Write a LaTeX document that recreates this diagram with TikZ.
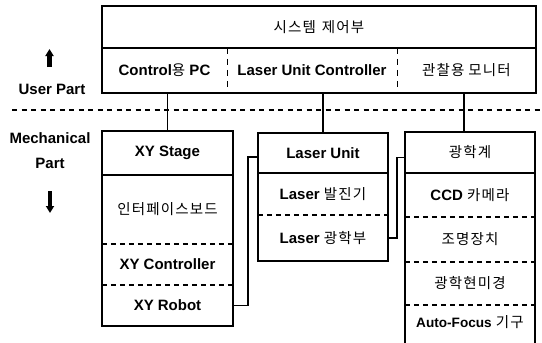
\documentclass[tikz,border=0pt]{standalone}
\usepackage{fontspec}
\setmainfont{Liberation Sans}
\newfontfamily\kr[LetterSpace=8]{Noto Sans CJK KR}
\usetikzlibrary{arrows.meta,calc}
\newcommand\K[1]{{\kr\mdseries\fontsize{14.5}{17}\selectfont #1}}
\begin{document}
\begin{tikzpicture}[x=1pt,y=-1pt,
  cell/.style 2 args={inner sep=0pt, minimum width=#1, minimum height=#2,
    font=\fontsize{15}{18}\selectfont\bfseries},
  outer/.style={line width=1.8pt, line join=miter},
  div/.style={line width=1.5pt},
  hdash/.style={line width=1.5pt, dash pattern=on 5pt off 4pt},
  vdash/.style={line width=1.4pt, dash pattern=on 6pt off 5pt},
  sep/.style={line width=1.6pt, dash pattern=on 5pt off 4.5pt},
  conn/.style={line width=1.5pt},
  fatarrow/.style={line width=4.4pt, -{Triangle[length=7pt,width=8pt]}},
  lab/.style={inner sep=0pt, font=\fontsize{15}{18}\selectfont\bfseries}]
\useasboundingbox (0,0) rectangle (542,343);
\fill[white] (0,0) rectangle (542,343);

% ---- user part (top box)
\node[cell={434}{42}] (sys) at (319,27) {\K{시스템\hspace{6pt}제어부}};
\node[cell={125}{45}] (ctrl) at (164.5,70.5) {Control\K{용} PC};
\node[cell={170}{45}] (luc) at (312,70.5) {Laser Unit Controller};
\node[cell={139}{45}] (mon) at (466.5,70.5) {\K{관찰용\hspace{4pt}모니터}};
\draw[outer] (sys.north west) rectangle (mon.south east);
\draw[div] (sys.south west) -- (sys.south east);
\draw[vdash] (ctrl.north east) -- (ctrl.south east);
\draw[vdash] (luc.north east) -- (luc.south east);

% ---- box 1
\node[cell={131}{44}] (xystage) at (167.5,153) {XY Stage};
\node[cell={131}{69}] (iface) at (167.5,209.5) {\K{인터페이스보드}};
\node[cell={131}{41}] (xyc) at (167.5,264.5) {XY Controller};
\node[cell={131}{41}] (robot) at (167.5,305.5) {XY Robot};
\draw[outer] (xystage.north west) rectangle (robot.south east);
\draw[div] (xystage.south west) -- (xystage.south east);
\draw[hdash] (iface.south west) -- (iface.south east);
\draw[hdash] (xyc.south west) -- (xyc.south east);

% ---- box 2
\node[cell={130}{40}] (lunit) at (323,153) {Laser Unit};
\node[cell={130}{42}] (losc) at (323,194) {Laser \K{발진기}};
\node[cell={130}{46}] (lopt) at (323,238) {Laser \K{광학부}};
\draw[outer] (lunit.north west) rectangle (lopt.south east);
\draw[div] (lunit.south west) -- (lunit.south east);
\draw[hdash] (losc.south west) -- (losc.south east);

% ---- box 3
\node[cell={130}{41}] (optsys) at (470,152.5) {\K{광학계}};
\node[cell={130}{44}] (ccd) at (470,195) {CCD \K{카메라}};
\node[cell={130}{45}] (light) at (470,239.5) {\K{조명장치}};
\node[cell={130}{43}] (micro) at (470,283.5) {\K{광학현미경}};
\node[cell={130}{34}] (af) at (470,322) {{\fontsize{13.6}{16}\selectfont Auto-Focus} \K{기구}};
\draw[outer] ($(af.south west)+(0,10)$) -- (optsys.north west) -- (optsys.north east) -- ($(af.south east)+(0,10)$);
\draw[div] (optsys.south west) -- (optsys.south east);
\draw[hdash] (ccd.south west) -- (ccd.south east);
\draw[hdash] (light.south west) -- (light.south east);
\draw[hdash] (micro.south west) -- (micro.south east);

% ---- connectors
\draw[conn] (ctrl.south -| xystage.north) -- (xystage.north);
\draw[conn] (luc.south -| lunit.north) -- (lunit.north);
\draw[conn] ($(mon.south)+(-2.5,0)$) -- ($(mon.south |- optsys.north)+(-2.5,0)$);
\draw[conn] (robot.east) -- ++(15,0) |- ($(lunit.west)+(0,4)$);
\draw[conn] (lopt.east) -- ++(9,0) |- ($(optsys.west)+(0,5)$);

% ---- separator and side labels
\coordinate (sepL) at (12,110);
\coordinate (sepR) at (542,110);
\draw[sep] (sepL) -- (sepR);
\coordinate (upA) at (49.5,67);
\coordinate (upB) at (49.5,49);
\draw[fatarrow] (upA) -- (upB);
\node[lab] (user) at (52,89) {User Part};
\node[lab] (mech) at (50,138) {Mechanical};
\node[lab] (part) at (50,163) {Part};
\coordinate (dnA) at (50,191);
\coordinate (dnB) at (50,213);
\draw[fatarrow] (dnA) -- (dnB);
\end{tikzpicture}
\end{document}
